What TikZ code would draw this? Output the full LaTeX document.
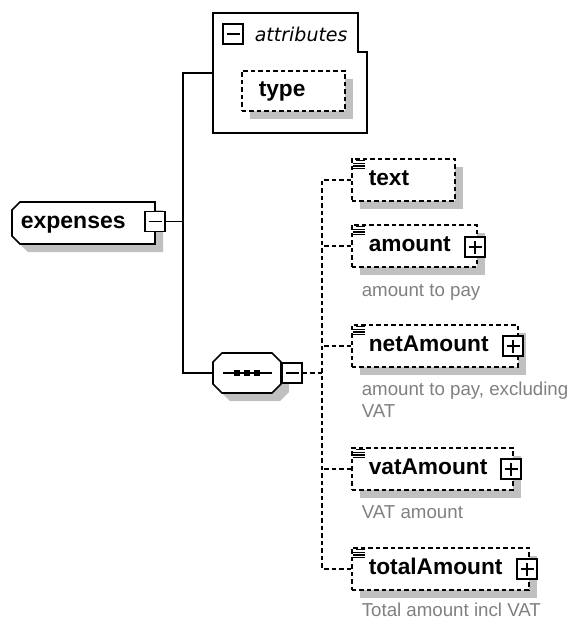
\documentclass[tikz,border=0pt]{standalone}
\usepackage{fontspec}
\setmainfont{Liberation Sans}
\newfontfamily\dvs{DejaVu Sans}
\usetikzlibrary{shadows,calc}
\definecolor{shgray}{HTML}{C0C0C0}
\definecolor{descgray}{HTML}{808080}
\tikzset{
  elbox/.style={draw, dash pattern=on 4.5pt off 3pt, line width=1.6pt, fill=white,
    anchor=north west, minimum height=42pt, inner xsep=17pt, inner ysep=0pt,
    text height=16pt, text depth=4pt, align=left,
    font=\fontsize{22.7}{26}\bfseries\selectfont,
    drop shadow={shadow xshift=8pt, shadow yshift=-8pt, fill=shgray, opacity=1}},
  iconbox/.style={draw, solid, fill=white, minimum size=20pt, inner sep=0pt, line width=1.6pt},
  minusbox/.style={iconbox, path picture={
    \draw[line width=1.6pt] ([xshift=3.5pt]path picture bounding box.west) -- ([xshift=-3.5pt]path picture bounding box.east);}},
  plusbox/.style={iconbox, path picture={
    \draw[line width=1.6pt] ([xshift=3.5pt]path picture bounding box.west) -- ([xshift=-3.5pt]path picture bounding box.east)
      ([yshift=-3.5pt]path picture bounding box.north) -- ([yshift=3.5pt]path picture bounding box.south);}},
  desc/.style={anchor=base west, inner sep=0pt, text=descgray, font=\fontsize{18.7}{22}\selectfont},
  conn/.style={dash pattern=on 4.5pt off 3pt, line width=1.6pt},
  solidconn/.style={line width=1.6pt},
  hidden/.style={inner sep=0pt, draw=none},
  elicon/.pic={\draw[line width=1.2pt] (5,2.5) -- (14,2.5) (2,5.2) -- (14,5.2) (2,7.9) -- (14,7.9) (2,10.6) -- (14,10.6);}
}
\begin{document}
\begin{tikzpicture}[x=1pt,y=-1pt,line width=1.6pt]
\useasboundingbox (0,0) rectangle (570,619);

% attributes box
\draw (213,13) -- (358,13) -- (358,52) -- (367,52) -- (367,133) -- (213,133) -- cycle;
\node[hidden, minimum width=154pt, minimum height=120pt] (attr) at (290,73) {};
\node[minusbox] (attrminus) at (233,34) {};
\node[anchor=base west, inner sep=0pt, font=\dvs\itshape\fontsize{19}{22}\selectfont] (attrlabel) at (254,41) {attributes};
\node[elbox, minimum height=40pt, text width=69pt] (type) at (241,70) {type};

% expenses
\fill[shgray] (28,210) -- (163,210) -- (163,252) -- (28,252) -- (20,244) -- (20,218) -- cycle;
\filldraw[fill=white] (20,202) -- (155,202) -- (155,244) -- (20,244) -- (12,236) -- (12,210) -- cycle;
\node[anchor=base west, inner sep=0pt, font=\fontsize{23}{26}\bfseries\selectfont] (expenses) at (20,228) {expenses};
\node[minusbox] (expminus) at (155,221.5) {};

% sequence compositor
\fill[shgray] (230,361) -- (280,361) -- (289,370) -- (289,392) -- (280,401) -- (230,401) -- (221,392) -- (221,370) -- cycle;
\filldraw[fill=white] (222,353) -- (272,353) -- (281,362) -- (281,384) -- (272,393) -- (222,393) -- (213,384) -- (213,362) -- cycle;
\node[hidden, minimum width=68pt, minimum height=40pt] (seq) at (247,373) {};
\draw (223,373) -- (272,373);
\foreach \dx in {237,247,257} \fill (\dx-2.8,370.2) rectangle (\dx+2.8,375.8);
\node[minusbox] (seqminus) at (292,373) {};

% solid connectors
\coordinate (spine) at (183,221.5);
\draw[solidconn] (expminus.east) -- (spine);
\draw[solidconn] (attr.west) -| (spine) |- (seq.west);

% elements
\node[elbox, text width=69pt]  (text)  at (351,158) {text};
\node[elbox, text width=91pt]  (amount) at (351,224) {amount};
\node[elbox, text width=132pt] (netAmount) at (351,324) {netAmount};
\node[elbox, text width=127pt] (vatAmount) at (351,447) {vatAmount};
\node[elbox, text width=143pt] (totalAmount) at (351,547) {totalAmount};

\foreach \n in {text,amount,netAmount,vatAmount,totalAmount}
  \pic at (\n.north west) {elicon};

\node[plusbox] (amountplus) at (475,247) {};
\node[plusbox] (netplus) at (513,346) {};
\node[plusbox] (vatplus) at (511,469) {};
\node[plusbox] (totalplus) at (527,569) {};

% descriptions
\node[desc] (amountdesc) at (361,296) {amount to pay};
\node[desc] (netdesc1) at (361,395) {amount to pay, excluding};
\node[desc] (netdesc2) at (361,417) {VAT};
\node[desc] (vatdesc) at (361,518) {VAT amount};
\node[desc] (totaldesc) at (361,616) {Total amount incl VAT};

% dashed connectors
\coordinate (bus) at (322,373);
\draw[conn] (seqminus.east) -- (bus);
\draw[conn] (text.west) -| (bus) |- (totalAmount.west);
\draw[conn] (amount.west) -- (amount.west -| bus);
\draw[conn] (netAmount.west) -- (netAmount.west -| bus);
\draw[conn] (vatAmount.west) -- (vatAmount.west -| bus);
\end{tikzpicture}
\end{document}
